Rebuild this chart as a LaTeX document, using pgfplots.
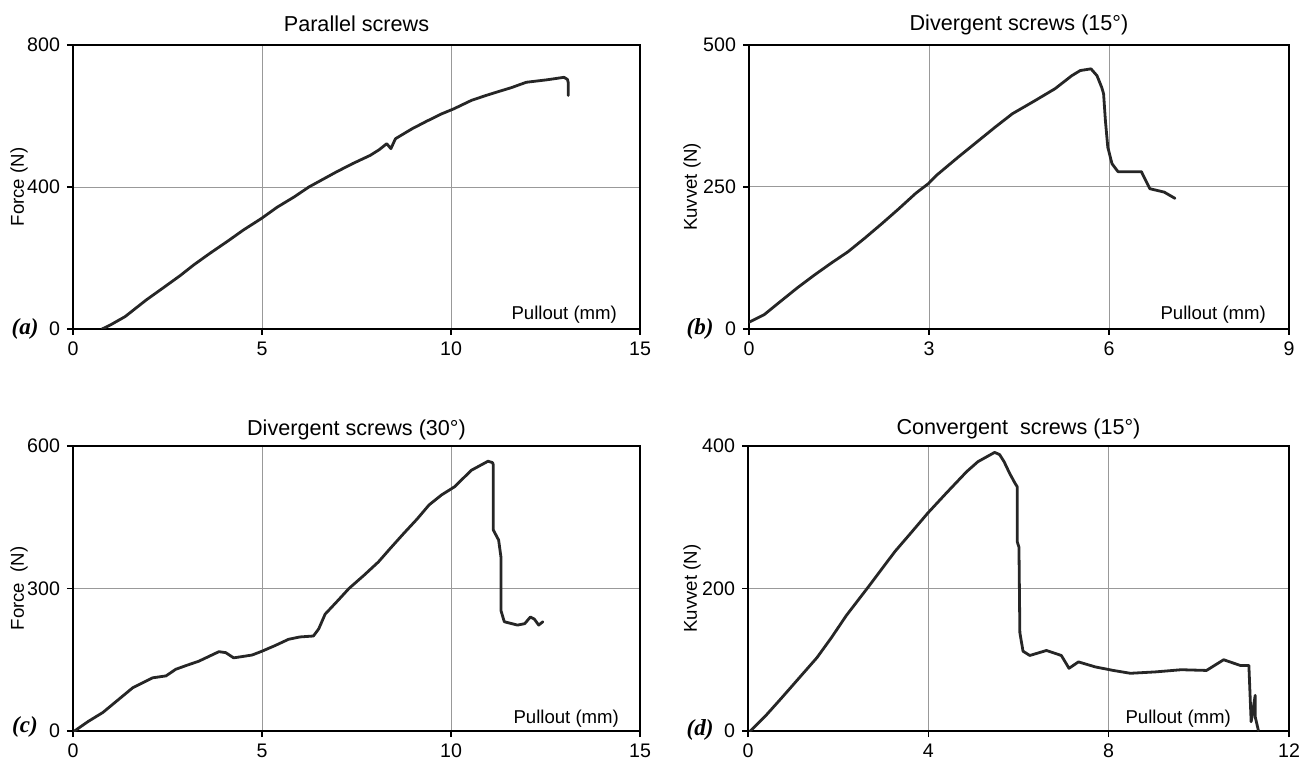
\documentclass[border=0pt]{standalone}
\usepackage{pgfplots}
\pgfplotsset{compat=1.18}
\usepackage{fontspec}
\setmainfont{Liberation Sans}
\newfontfamily\serifit{Liberation Serif}
\pgfplotsset{
  panel/.style={
    scale only axis,
    /pgf/number format/assume math mode=true,
    tick align=outside,
    xtick pos=left, ytick pos=left,
    grid=major,
    major grid style={line width=0.5pt, color=black!40},
    axis line style={line width=0.9pt, black},
    major tick length=3pt,
    tick style={line width=0.8pt, black},
    ticklabel style={font=\fontsize{9.8}{11}\selectfont},
    label style={font=\fontsize{9.3}{11}\selectfont},
    title style={font=\fontsize{10.8}{12}\selectfont, at={(0.5,1)}, anchor=base, yshift=1pt},
  },
  curve/.style={color=black!85, line width=1.4pt, line join=round, line cap=round, mark=none},
}
\begin{document}
\begin{tikzpicture}
\useasboundingbox (0,0) rectangle (655.5pt,380pt);
% (a)
\begin{axis}[panel, at={(36.5pt,215.5pt)}, anchor=south west,
  width=283.5pt, height=142pt,
  xmin=0, xmax=15, ymin=0, ymax=800,
  xtick={0,5,10,15}, ytick={0,400,800},
  title={Parallel screws},
  xlabel={Pullout (mm)}, ylabel={Force (N)},
  xlabel style={at={(1,0)}, anchor=base east, xshift=-8pt, yshift=4.5pt},
  ylabel style={at={(0,0.5)}, anchor=center, yshift=27pt},
]
\addplot[curve] coordinates {
(0.77,0) (1.0,12) (1.38,35) (1.94,82) (2.4,117) (2.83,150) (3.2,181) (3.62,213) (4.1,248) (4.51,279) (4.98,311) (5.4,343) (5.85,372) (6.24,400) (6.6,421) (6.96,442) (7.4,466) (7.86,489) (8.1,505) (8.30,522) (8.41,508) (8.53,536) (8.97,564) (9.35,585) (9.75,606) (10.07,620) (10.54,644) (10.9,657) (11.2,667) (11.6,680) (11.99,695) (12.54,702) (12.99,709) (13.08,703) (13.1,695) (13.1,658)
};
\end{axis}
% (b)
\begin{axis}[panel, at={(374.5pt,215.5pt)}, anchor=south west,
  width=270pt, height=142pt,
  xmin=0, xmax=9, ymin=0, ymax=500,
  xtick={0,3,6,9}, ytick={0,250,500},
  title={Divergent screws (15°)},
  xlabel={Pullout (mm)}, ylabel={Kuvvet (N)},
  xlabel style={at={(1,0)}, anchor=base east, xshift=-8pt, yshift=4.5pt},
  ylabel style={at={(0,0.5)}, anchor=center, yshift=28.5pt},
]
\addplot[curve] coordinates {
(0,12) (0.25,25) (0.53,49) (0.8,72) (1.09,95) (1.37,116) (1.65,136) (1.93,160) (2.22,186) (2.5,212) (2.78,239) (2.99,256) (3.13,271) (3.48,302) (3.83,332) (4.11,356) (4.39,379) (4.75,401) (5.10,423) (5.38,446) (5.52,455) (5.70,458) (5.80,446) (5.88,425) (5.91,414) (5.94,367) (5.98,320) (6.05,291) (6.15,277) (6.54,277) (6.68,247) (6.92,241) (7.10,230)
};
\end{axis}
% (c)
\begin{axis}[panel, at={(36.5pt,14.5pt)}, anchor=south west,
  width=283.5pt, height=142.5pt,
  xmin=0, xmax=15, ymin=0, ymax=600,
  xtick={0,5,10,15}, ytick={0,300,600},
  title={Divergent screws (30°)},
  title style={yshift=-1.5pt},
  xlabel={Pullout (mm)}, ylabel={Force\ \ (N)},
  xlabel style={at={(1,0)}, anchor=base east, xshift=-7pt, yshift=4pt},
  ylabel style={at={(0,0.5)}, anchor=center, yshift=27pt},
]
\addplot[curve] coordinates {
(0.04,0) (0.4,20) (0.79,39) (1.2,66) (1.58,91) (2.11,112) (2.46,116) (2.72,130) (3.0,138) (3.33,147) (3.86,167) (4.04,165) (4.25,154) (4.5,157) (4.74,160) (5.0,168) (5.35,180) (5.70,193) (6.0,198) (6.36,200) (6.5,215) (6.67,246) (7.0,274) (7.30,300) (7.7,328) (8.08,356) (8.4,385) (8.75,416) (9.1,446) (9.42,476) (9.75,497) (10.09,514) (10.54,549) (10.98,568) (11.1,565) (11.12,560) (11.12,423) (11.26,402) (11.32,367) (11.32,254) (11.41,230) (11.76,223) (11.95,226) (12.10,240) (12.2,236) (12.32,223) (12.43,230)
};
\end{axis}
% (d)
\begin{axis}[panel, at={(374pt,14.5pt)}, anchor=south west,
  width=270.5pt, height=142.5pt,
  xmin=0, xmax=12, ymin=0, ymax=400,
  xtick={0,4,8,12}, ytick={0,200,400},
  title={Convergent\ \ screws (15°)},
  title style={yshift=-1.5pt},
  xlabel={Pullout (mm)}, ylabel={Kuvvet (N)},
  xlabel style={at={(1,0)}, anchor=base east, xshift=-25.5pt, yshift=4pt},
  ylabel style={at={(0,0.5)}, anchor=center, yshift=28pt},
]
\addplot[curve] coordinates {
(0.05,0) (0.4,22) (0.74,46) (1.1,72) (1.53,103) (1.85,131) (2.18,162) (2.69,204) (3.26,252) (3.6,277) (3.99,306) (4.4,334) (4.85,364) (5.1,378) (5.47,391) (5.58,388) (5.68,378) (5.8,362) (5.92,348) (5.97,343) (5.97,266) (6.01,258) (6.03,138) (6.1,112) (6.25,106) (6.62,113) (6.95,106) (7.12,88) (7.33,97) (7.7,90) (8.1,85) (8.48,81) (9.05,83) (9.61,86) (10.17,85) (10.55,100) (10.92,92) (11.11,92) (11.16,13) (11.25,50) (11.25,20) (11.32,1)
};
\end{axis}
\node[anchor=base] at (12.5pt,212.5pt) {\serifit\fontsize{11.5}{12}\selectfont\bfseries\itshape (a)};
\node[anchor=base] at (350pt,212.5pt) {\serifit\fontsize{11.5}{12}\selectfont\bfseries\itshape (b)};
\node[anchor=base] at (12.5pt,13.5pt) {\serifit\fontsize{11.5}{12}\selectfont\bfseries\itshape (c)};
\node[anchor=base] at (350pt,12.5pt) {\serifit\fontsize{11.5}{12}\selectfont\bfseries\itshape (d)};
\end{tikzpicture}
\end{document}
